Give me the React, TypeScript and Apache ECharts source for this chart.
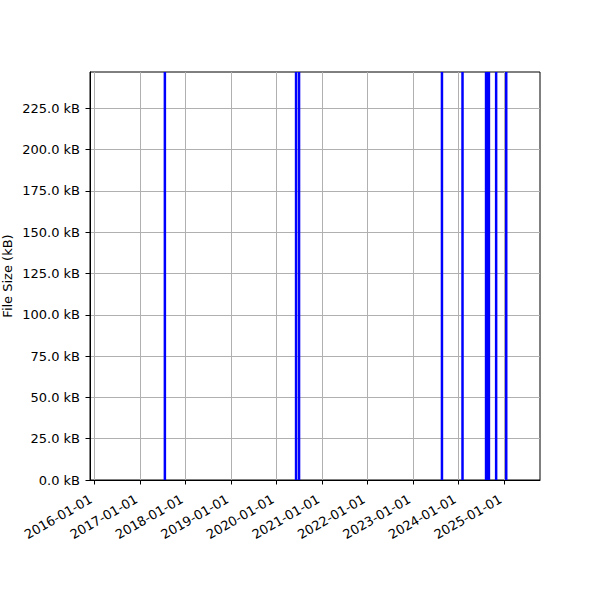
import { useEffect, useRef } from 'react';
import * as echarts from 'echarts';

// release dates and file sizes (kB)
const releaseDates = [
  '2017-07-20',
  '2020-06-07',
  '2020-07-01',
  '2023-08-22',
  '2024-02-03',
  '2024-08-10',
  '2024-08-22',
  '2024-09-02',
  '2024-10-30',
  '2025-01-19',
];
const fileSizes = [247, 247, 247, 247, 247, 247, 247, 247, 247, 247];

const yearTicks = [
  '2016-01-01', '2017-01-01', '2018-01-01', '2019-01-01', '2020-01-01',
  '2021-01-01', '2022-01-01', '2023-01-01', '2024-01-01', '2025-01-01',
];
const sizeTicks = [0, 25, 50, 75, 100, 125, 150, 175, 200, 225];

const xMin = '2015-11-27';
const xMax = '2025-10-17';
const yMax = 247;

const toTs = (d: string) => {
  const [y, m, day] = d.split('-').map(Number);
  return Date.UTC(y, m - 1, day);
};

const pad = (n: number) => (n < 10 ? '0' + n : '' + n);

export default function App() {
  const chartRef = useRef<HTMLDivElement>(null);

  useEffect(() => {
    if (!chartRef.current) return;
    const chart = echarts.init(chartRef.current, undefined, { renderer: 'svg' });
    const font = 'DejaVu Sans';

    chart.setOption({
      animation: false,
      backgroundColor: '#fff',
      textStyle: { fontFamily: font },
      grid: {
        left: 90,
        right: 60,
        top: 72,
        bottom: 120,
        containLabel: false,
        outerBoundsMode: 'none',
        show: true,
        borderColor: '#000',
        borderWidth: 1,
        backgroundColor: 'transparent',
      },
      xAxis: {
        type: 'value',
        min: toTs(xMin),
        max: toTs(xMax),
        axisLine: { show: true, onZero: false, lineStyle: { color: '#000', width: 1 } },
        axisTick: {
          show: true,
          length: 4.5,
          lineStyle: { color: '#000' },
          customValues: yearTicks.map(toTs),
        },
        axisLabel: {
          customValues: yearTicks.map(toTs),
          rotate: 30,
          margin: 16,
          padding: [0, 4, 0, 0],
          color: '#000',
          fontSize: 13,
          fontFamily: font,
          formatter: (v: number) => {
            const d = new Date(v);
            return `${d.getUTCFullYear()}-${pad(d.getUTCMonth() + 1)}-${pad(d.getUTCDate())}`;
          },
        },
        splitLine: { show: true, lineStyle: { color: '#b0b0b0', width: 1 } },
      },
      yAxis: {
        type: 'value',
        min: 0,
        max: yMax,
        interval: 25,
        name: 'File Size (kB)',
        nameLocation: 'middle',
        nameGap: 76,
        nameMoveOverlap: false,
        nameTextStyle: { color: '#000', fontSize: 13, fontFamily: font },
        axisLine: { show: true, lineStyle: { color: '#000', width: 1 } },
        axisTick: {
          show: true,
          length: 4.5,
          lineStyle: { color: '#000' },
          customValues: sizeTicks,
        },
        axisLabel: {
          customValues: sizeTicks,
          color: '#000',
          fontSize: 13,
          fontFamily: font,
          margin: 10,
          formatter: (v: number) => `${v.toFixed(1)} kB`,
        },
        splitLine: { show: true, lineStyle: { color: '#b0b0b0', width: 1 } },
      },
      series: [
        {
          type: 'bar',
          data: releaseDates.map((d, i) => [toTs(d), fileSizes[i]]),
          barWidth: 2.5,
          itemStyle: { color: '#0000ff' },
          clip: true,
        },
      ],
    });

    return () => chart.dispose();
  }, []);

  return (
    <div
      ref={chartRef}
      style={{ position: 'fixed', left: 0, top: 0, width: 600, height: 600 }}
    />
  );
}
